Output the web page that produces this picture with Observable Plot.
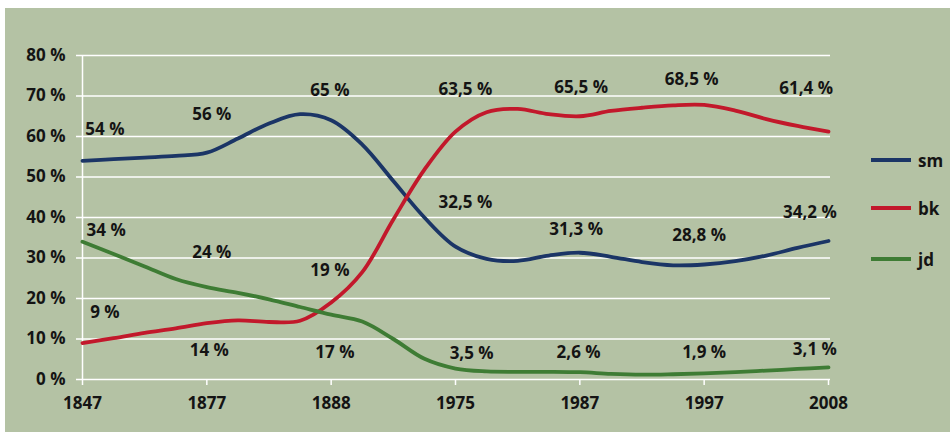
<!DOCTYPE html>
<html>
<head>
<meta charset="utf-8">
<script src="https://cdn.jsdelivr.net/npm/d3@7"></script>
<script src="https://cdn.jsdelivr.net/npm/@observablehq/plot@0.6"></script>
<style>
  html, body { margin: 0; padding: 0; background: #ffffff; }
  #wrap { position: absolute; left: 5px; top: 8px; width: 945px; height: 424px; background: #b4c2a4; font-family: "Open Sans", sans-serif; }
  #legend { position: absolute; left: 866px; top: 0; }
  .item { position: absolute; left: 0; display: flex; align-items: center; font-size: 17px; font-weight: 700; color: #141414; white-space: nowrap; }
  .swatch { width: 40px; height: 4px; margin-right: 7px; }
</style>
</head>
<body>
<div id="wrap"><div id="legend"></div></div>
<script>
// Category axis
const categories = ["1847", "1877", "1888", "1975", "1987", "1997", "2008"];
const yTicks = [0, 10, 20, 30, 40, 50, 60, 70, 80];

// Sample positions along the category axis (in category steps) where the curves were read
const samplePos = [0, 0.25, 0.5, 0.75, 1, 1.25, 1.5, 1.75, 2, 2.25, 2.5, 2.75, 3, 3.25, 3.5, 3.75, 4, 4.25, 4.5, 4.75, 5, 5.25, 5.5, 5.75, 6];

// Series values (percent)
const smValues = [54, 54.4, 54.8, 55.2, 56, 59.5, 63.2, 65.5, 64, 58, 49, 40, 32.8, 29.8, 29.3, 30.6, 31.3, 30.3, 29.0, 28.2, 28.4, 29.2, 30.6, 32.5, 34.2];
const bkValues = [9, 10.2, 11.5, 12.6, 13.9, 14.6, 14.2, 14.5, 19, 26.5, 39.5, 51.8, 61.2, 66, 66.8, 65.5, 65, 66.3, 67.1, 67.7, 67.8, 66.4, 64.3, 62.6, 61.2];
const jdValues = [34, 31, 27.9, 24.8, 22.8, 21.4, 19.8, 17.9, 16, 14.3, 10, 5.1, 2.7, 2.0, 1.9, 1.9, 1.8, 1.4, 1.2, 1.3, 1.5, 1.8, 2.2, 2.6, 3.0];

const seriesNames = ["sm", "bk", "jd"];
const seriesColors = ["#1b3566", "#c2182b", "#3e7c34"];

// Value labels: anchor (category steps), anchor (percent), text
const labelSeries = ["sm","sm","sm","sm","sm","sm","sm","bk","bk","bk","bk","bk","bk","bk","jd","jd","jd","jd","jd","jd","jd"];
const labelPos = [0.18, 1.04, 1.99, 3.08, 3.97, 4.96, 5.85, 0.18, 1.02, 1.99, 3.08, 4.01, 4.90, 5.82, 0.19, 1.04, 2.03, 3.13, 3.99, 5.0, 5.89];
const labelAt = [61.7, 65.4, 71.4, 43.8, 37.0, 35.6, 41.3, 16.5, 7.2, 26.9, 71.5, 72.2, 74.0, 71.8, 36.8, 31.4, 6.7, 6.3, 6.7, 6.6, 7.3];
const labelText = ["54 %", "56 %", "65 %", "32,5 %", "31,3 %", "28,8 %", "34,2 %", "9 %", "14 %", "19 %", "63,5 %", "65,5 %", "68,5 %", "61,4 %", "34 %", "24 %", "17 %", "3,5 %", "2,6 %", "1,9 %", "3,1 %"];

const valuesBySeries = {sm: smValues, bk: bkValues, jd: jdValues};
const lineData = seriesNames.flatMap(s => samplePos.map((p, i) => ({series: s, pos: p, value: valuesBySeries[s][i]})));
const labels = labelText.map((t, i) => ({series: labelSeries[i], pos: labelPos[i], at: labelAt[i], text: t}));

const chart = Plot.plot({
  width: 945,
  height: 424,
  marginLeft: 77,
  marginRight: 122,
  marginTop: 47,
  marginBottom: 53,
  style: {background: "transparent", fontFamily: "'Open Sans', sans-serif", fontSize: "17px", color: "#141414", overflow: "visible"},
  x: {domain: [0, categories.length - 1], axis: null},
  y: {domain: [0, 80], axis: null},
  color: {domain: seriesNames, range: seriesColors},
  marks: [
    Plot.ruleY(yTicks, {stroke: "white", strokeWidth: 1.5, insetLeft: -6, insetRight: -2}),
    Plot.ruleX([0], {y1: 0, y2: 80, stroke: "white", strokeWidth: 1.5}),
    Plot.axisX({ticks: d3.range(categories.length), tickFormat: i => categories[i], label: null, tickSize: 6, tickPadding: 11, stroke: "white", strokeWidth: 1.5, fill: "#141414", fontSize: 17, fontWeight: 700}),
    Plot.axisY({ticks: yTicks, tickFormat: d => `${d} %`, label: null, tickSize: 0, tickPadding: 17, fill: "#141414", fontSize: 17, fontWeight: 700}),
    Plot.line(lineData, {x: "pos", y: "value", z: "series", stroke: "series", strokeWidth: 3.8, curve: "catmull-rom"}),
    Plot.text(labels, {x: "pos", y: "at", text: "text", fill: "#141414", fontSize: 17, fontWeight: 700})
  ]
});
document.getElementById("wrap").prepend(chart);

// Legend
const legendTops = [160, 208, 259];
const legend = document.getElementById("legend");
seriesNames.forEach((s, i) => {
  const item = document.createElement("div");
  item.className = "item";
  item.style.top = legendTops[i] - 8 - 11 + "px";
  item.style.height = "22px";
  const sw = document.createElement("span");
  sw.className = "swatch";
  sw.style.background = seriesColors[i];
  const tx = document.createElement("span");
  tx.textContent = s;
  item.append(sw, tx);
  legend.append(item);
});
</script>
</body>
</html>
